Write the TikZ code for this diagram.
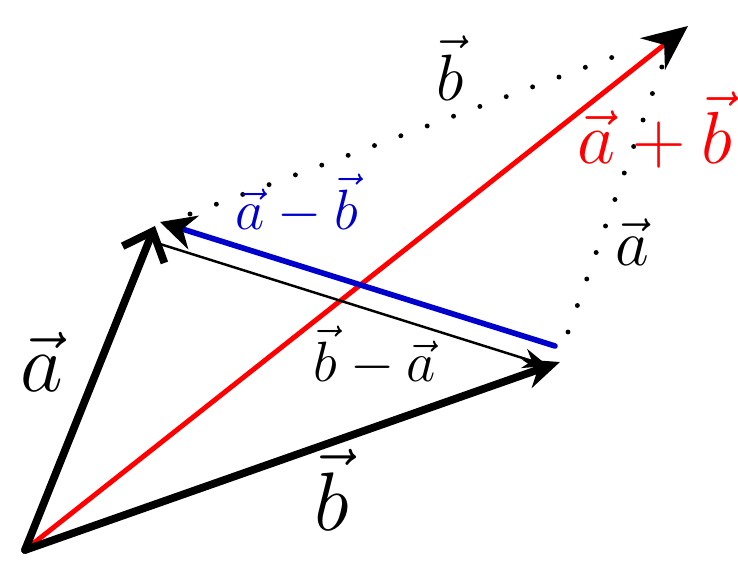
\documentclass[tikz,border=0pt]{standalone}
\usepackage{amsmath}
\usetikzlibrary{arrows.meta}

\begin{document}
\begin{tikzpicture}[x=0.02cm, y=-0.02cm,
  vec/.style={line width=4.4pt, line cap=round},
  dots/.style={line width=2.8pt, line cap=round, dash pattern=on 0pt off 16pt},
  lbl/.style={font=\Huge, scale=1.3},
  big/.style={font=\Huge, scale=1.9},
  small/.style={font=\Huge, scale=1.5}]
\useasboundingbox (0,0) rectangle (738,567);
\coordinate (O) at (25,550);
\coordinate (A) at (155,226);
\coordinate (B) at (560,362);
\coordinate (S) at (688,26);
\coordinate (Bl) at (555,346);
\coordinate (Al) at (160,222);
\coordinate (Ak) at (160,244);
\coordinate (Bk) at (548,366);
\coordinate (Da) at (190,214);
\coordinate (Db) at (632,50);
\coordinate (Ea) at (568,332);
\coordinate (Eb) at (665,58);
% sum and difference
\draw[red, line width=2.8pt, -{Stealth[length=9mm, width=8mm, black]}] (O) -- (S);
\draw[blue!80!black, line width=3.2pt, line cap=round, -{Stealth[length=7mm, width=7mm, black]}] (Bl) -- (Al);
\draw[line width=1.4pt, -{Stealth[length=5mm, width=4mm]}] (Ak) -- (Bk);
% a and b
\draw[vec, -{Straight Barb[length=5mm, width=9mm]}] (O) -- (A);
\draw[vec, -{Stealth[length=7mm, width=6mm]}] (O) -- (B);
% parallelogram sides
\draw[dots] (Da) -- (Db);
\draw[dots] (Ea) -- (Eb);
% labels
\node[big] (la) at (42,362) {$\vec{a}$};
\node[big] (lb) at (332,490) {$\vec{b}$};
\node[small] (lb2) at (450,68) {$\vec{b}$};
\node[small] (la2) at (632,242) {$\vec{a}$};
\node[lbl, red, scale=1.3] (lsum) at (655,130) {$\vec{a}+\vec{b}$};
\node[lbl, blue!80!black] (ldif) at (297,204) {$\vec{a}-\vec{b}$};
\node[lbl] (ldif2) at (375,356) {$\vec{b}-\vec{a}$};
\end{tikzpicture}
\end{document}
